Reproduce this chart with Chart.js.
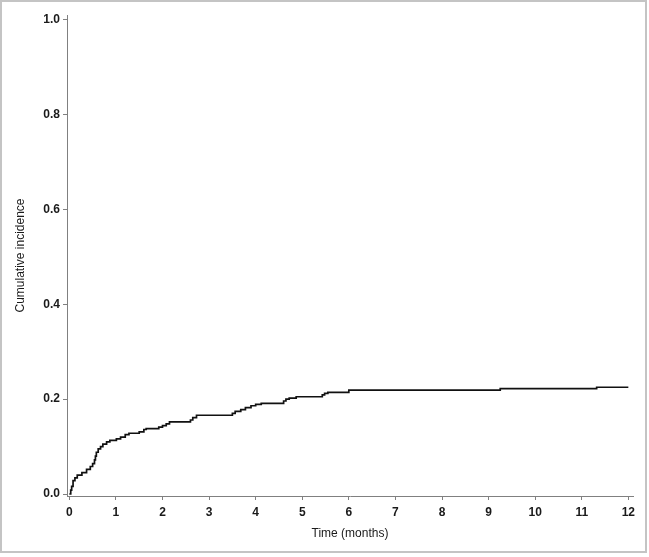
<!DOCTYPE html>
<html>
<head>
<meta charset="utf-8">
<script src="https://cdn.jsdelivr.net/npm/chart.js@4.4.1/dist/chart.umd.min.js"></script>
<style>
html,body{margin:0;padding:0;background:#fff;}
#wrap{width:649px;height:557px;position:relative;}
</style>
</head>
<body>
<div id="wrap"><canvas id="c" width="649" height="557"></canvas></div>
<script>
// Event times (months) and cumulative incidence after each step
const times = [0,0.03,0.05,0.08,0.12,0.17,0.27,0.37,0.45,0.5,0.54,0.56,0.58,0.62,0.67,0.72,0.8,0.87,1.01,1.1,1.2,1.28,1.5,1.6,1.65,1.92,2.0,2.08,2.15,2.6,2.65,2.73,3.5,3.56,3.68,3.78,3.9,4.0,4.12,4.6,4.65,4.72,4.87,5.43,5.48,5.55,6.0,9.25,11.32,12];
const incidence = [0,0.008,0.016,0.028,0.034,0.04,0.045,0.052,0.058,0.064,0.072,0.08,0.088,0.095,0.1,0.105,0.11,0.113,0.116,0.12,0.125,0.128,0.131,0.136,0.138,0.141,0.144,0.148,0.152,0.156,0.161,0.166,0.17,0.174,0.178,0.182,0.186,0.189,0.191,0.196,0.2,0.202,0.205,0.209,0.212,0.214,0.219,0.222,0.225,0.225];
const xTicks = [0,1,2,3,4,5,6,7,8,9,10,11,12];
const yTicks = [0,0.2,0.4,0.6,0.8,1.0];
const xTitle = 'Time (months)';
const yTitle = 'Cumulative incidence';

const points = times.map((t,i)=>({x:t,y:incidence[i]}));

const framePlugin = {
  id:'frame',
  beforeDraw(chart){
    const ctx = chart.ctx;
    ctx.save();
    ctx.fillStyle = '#ffffff';
    ctx.fillRect(0,0,chart.width,chart.height);
    ctx.strokeStyle = '#c4c4c4';
    ctx.lineWidth = 2;
    ctx.strokeRect(1,1,645,551);
    ctx.restore();
  }
};

const tickFont = {family:'"Liberation Sans", Arial, sans-serif', size:12, weight:'bold'};
const titleFont = {family:'"Liberation Sans", Arial, sans-serif', size:12, weight:'normal'};

new Chart(document.getElementById('c'), {
  type:'line',
  data:{datasets:[{
    data:points,
    stepped:true,
    borderColor:'#111',
    borderWidth:1.7,
    pointRadius:0,
    fill:false,
    tension:0
  }]},
  options:{
    responsive:false,
    animation:false,
    devicePixelRatio:1,
    layout:{padding:{left:9,right:16,top:15,bottom:0}},
    plugins:{legend:{display:false},tooltip:{enabled:false}},
    scales:{
      x:{
        type:'linear',
        min:-0.05, max:12.1,
        afterBuildTicks(s){ s.ticks = xTicks.map(v=>({value:v})); },
        afterFit(s){ s.height = 61; },
        grid:{drawOnChartArea:false, drawTicks:true, tickLength:4, color:'#808080', lineWidth:1},
        border:{display:true, color:'#808080', width:1},
        ticks:{font:tickFont, color:'#1a1a1a', padding:5, maxRotation:0, autoSkip:false},
        title:{display:true, text:xTitle, font:titleFont, color:'#1a1a1a', padding:{top:2,bottom:16}}
      },
      y:{
        type:'linear',
        min:-0.0042, max:1.0095,
        afterBuildTicks(s){ s.ticks = yTicks.map(v=>({value:v})); },
        afterFit(s){ s.width = 58; },
        grid:{drawOnChartArea:false, drawTicks:true, tickLength:4, color:'#808080', lineWidth:1},
        border:{display:true, color:'#808080', width:1},
        ticks:{font:tickFont, color:'#1a1a1a', padding:3, callback:v=>v.toFixed(1)},
        title:{display:true, text:yTitle, font:titleFont, color:'#1a1a1a', padding:{top:4,bottom:0}}
      }
    }
  },
  plugins:[framePlugin]
});
</script>
</body>
</html>
